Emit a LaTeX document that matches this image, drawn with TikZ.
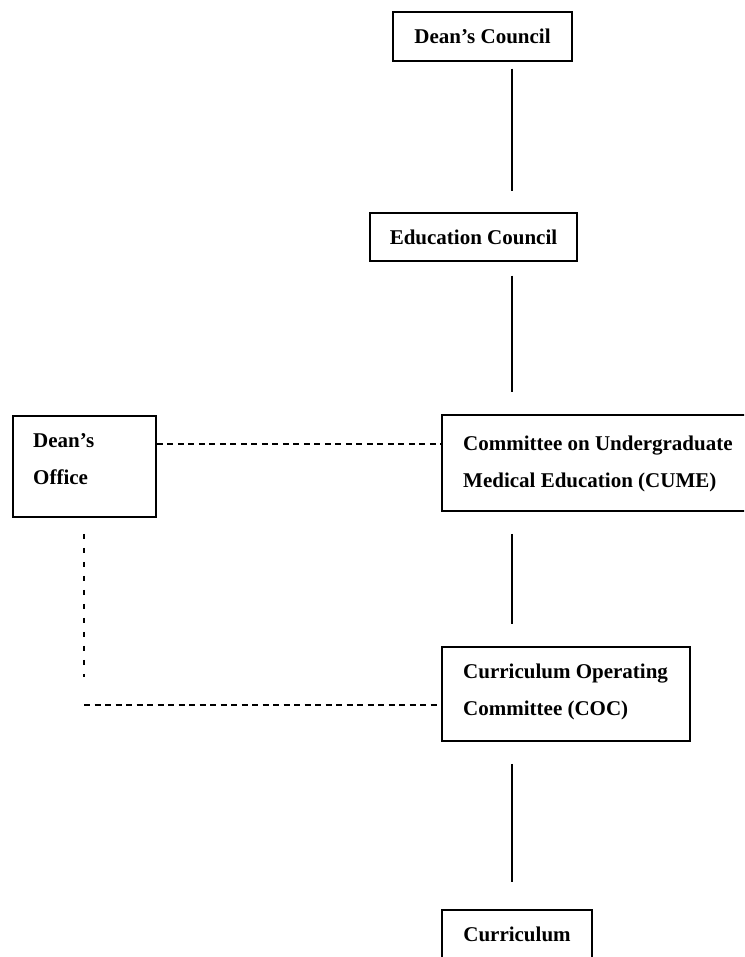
\documentclass[tikz,border=0pt]{standalone}
\usepackage{fontspec}
\setmainfont{Liberation Serif}
\begin{document}
\begin{tikzpicture}[x=1pt,y=-1pt,
  box/.style={draw, line width=1.5pt, inner sep=0pt, font=\fontsize{21}{37}\selectfont\bfseries},
  lbl/.style={inner sep=0pt, align=left, font=\fontsize{21}{37}\selectfont\bfseries},
  link/.style={line width=1.5pt},
  dashh/.style={line width=1.2pt, dash pattern=on 6pt off 4.5pt},
  dashv/.style={line width=1.2pt, dash pattern=on 5pt off 9pt}]
\useasboundingbox (0,0) rectangle (744,957);
\clip (0,0) rectangle (744,957);
% boxes
\node[box, minimum width=179pt, minimum height=49pt] (dc) at (482.5,36.5) {Dean’s Council};
\node[box, minimum width=207pt, minimum height=48pt] (ec) at (473.5,237) {Education Council};
\node[box, minimum width=143pt, minimum height=101pt] (do) at (84.5,466.5) {};
\node[box, minimum width=328pt, minimum height=96pt] (cume) at (606,463) {};
\node[box, minimum width=248pt, minimum height=94pt] (coc) at (566,694) {};
\node[box, minimum width=150pt, minimum height=48pt] (cur) at (517,934) {Curriculum};
% labels of the two-line boxes (anchor = baseline of the last line)
\node[lbl, anchor=base west] (dot) at (33,484) {Dean’s\\Office};
\node[lbl, anchor=base west] (cumet) at (463,487) {Committee on Undergraduate\\Medical Education (CUME)};
\node[lbl, anchor=base west] (coct) at (463,715) {Curriculum Operating\\Committee (COC)};
% solid connectors
\coordinate (vx) at (512,0);
\draw[link, shorten <=7pt, shorten >=21pt] (dc.south -| vx) -- (ec.north -| vx);
\draw[link, shorten <=14pt, shorten >=22pt] (ec.south -| vx) -- (cume.north -| vx);
\draw[link, shorten <=22pt, shorten >=22pt] (cume.south -| vx) -- (coc.north -| vx);
\draw[link, shorten <=22pt, shorten >=27pt] (coc.south -| vx) -- (cur.north -| vx);
% dashed connectors
\coordinate (d1) at (0,444);
\draw[dashh] (do.east |- d1) -- (cume.west |- d1);
\coordinate (vend) at (84,677);
\draw[dashv, shorten <=16pt] (do.south -| vend) -- (vend);
\coordinate (hstart) at (84,705);
\draw[dashh] (hstart) -- (coc.west |- hstart);
\end{tikzpicture}
\end{document}
